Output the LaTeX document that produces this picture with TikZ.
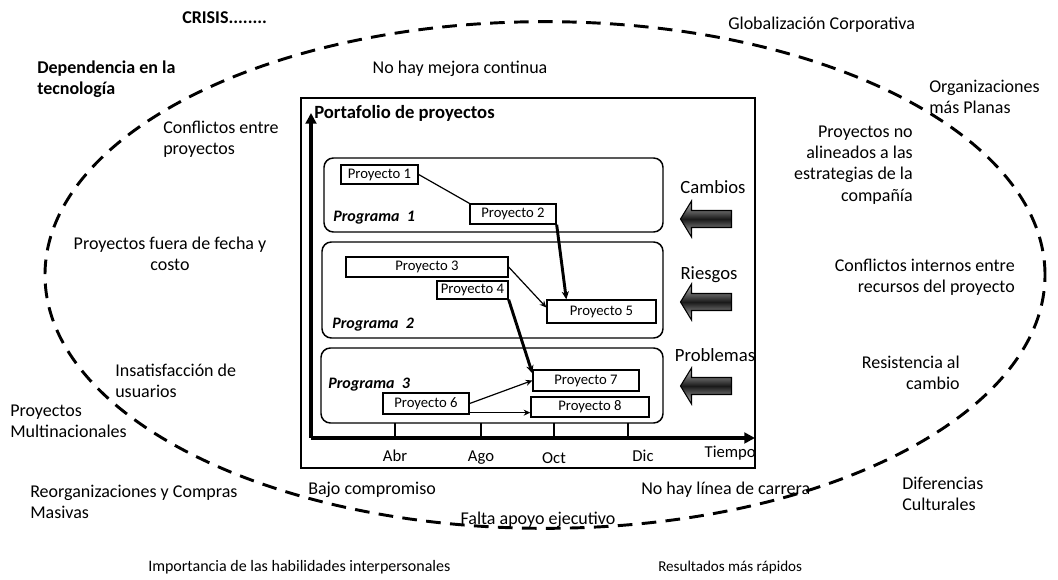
\documentclass[tikz,border=0pt]{standalone}
\usepackage{fontspec}
\setmainfont{Carlito}
\usetikzlibrary{arrows.meta,fit}

\begin{document}
\begin{tikzpicture}[
  x=0.75pt, y=-0.75pt,
  lbl/.style={font=\fontsize{13.5}{16}\selectfont, inner sep=0pt},
  lblb/.style={lbl, font=\fontsize{13.5}{16}\selectfont\bfseries},
  lbls/.style={font=\fontsize{12}{14}\selectfont, inner sep=0pt},
  side/.style={font=\fontsize{14}{16}\selectfont, inner sep=0pt},
  tick/.style={font=\fontsize{12.5}{14}\selectfont, inner sep=0pt, anchor=base},
  progbox/.style={draw, line width=1.1pt, rounded corners=7pt, inner sep=0pt},
  proglbl/.style={font=\fontsize{12}{14}\selectfont\bfseries\itshape, inner sep=0pt, anchor=west},
  pbox/.style={draw, line width=1pt, inner sep=0pt, fill=white},
  pname/.style={font=\fontsize{11}{13}\selectfont, inner sep=0pt},
  thinarr/.style={line width=0.9pt, -{Stealth[length=5pt,width=4.5pt]}},
  thickarr/.style={line width=2.2pt, -{Stealth[length=6pt,width=5.5pt]}},
  link/.style={line width=0.9pt},
  axis/.style={line width=2.4pt, -{Triangle[length=8pt,width=8pt]}},
  blockarrow/.pic={
    \shade[draw=black, line width=0.8pt, top color=gray!55, bottom color=gray!55, middle color=black!90]
      (-25.5,0) -- (-14.5,-18) -- (-14.5,-8.5) -- (25.5,-8.5) -- (25.5,8.5)
      -- (-14.5,8.5) -- (-14.5,18) -- cycle;
  }
]
\useasboundingbox (0,0) rectangle (1058,580);
\fill[white] (0,0) rectangle (1058,580);

% dashed outer boundary
\draw[line width=2.2pt, dash pattern=on 11pt off 7pt] (545,275) ellipse [x radius=375pt, y radius=190pt];

% surrounding factors
\node[lblb, anchor=west] (crisis) at (182,18) {CRISIS........};
\node[lblb, anchor=west, align=left] (dep) at (37,79) {Dependencia en la\\tecnología};
\node[lbl] (mejora) at (460,69) {No hay mejora continua};
\node[lbl, anchor=west] (glob) at (728,25) {Globalización Corporativa};
\node[lbl, anchor=west, align=left] (planas) at (929,97) {Organizaciones\\más Planas};
\node[lbl, anchor=east, align=right] (alin) at (913,165) {Proyectos no\\alineados a las\\estrategias de la\\compañía};
\node[lbl, anchor=west, align=left] (confl) at (163,139) {Conflictos entre\\proyectos};
\node[lbl, align=center] (fecha) at (170,254) {Proyectos fuera de fecha y\\costo};
\node[lbl, anchor=east, align=right] (recursos) at (1015,277) {Conflictos internos entre\\recursos del proyecto};
\node[lbl, anchor=east, align=right] (resist) at (960,373) {Resistencia al\\cambio};
\node[lbl, anchor=west, align=left] (insat) at (115,381) {Insatisfacción de\\usuarios};
\node[lbl, anchor=west, align=left] (multi) at (10,421) {Proyectos\\Multinacionales};
\node[lbl, anchor=west, align=left] (reorg) at (30,502) {Reorganizaciones y Compras\\Masivas};
\node[lbl, anchor=west] (bajo) at (308,490) {Bajo compromiso};
\node[lbl, anchor=west] (carrera) at (641,490) {No hay línea de carrera};
\node[lbl, anchor=west, align=left] (dif) at (902,494) {Diferencias\\Culturales};
\node[lbl] (falta) at (538,520) {Falta apoyo ejecutivo};
\node[lbls, anchor=west] (habil) at (148,567) {Importancia de las habilidades interpersonales};
\node[lbls, anchor=west, font=\fontsize{11.3}{14}\selectfont] (rapidos) at (658,567) {Resultados más rápidos};

% portfolio frame
\node[draw, line width=1.2pt, inner sep=0pt, fit={(301,98)(755,468)}] (frame) {};
\node[font=\fontsize{14}{16}\selectfont\bfseries, inner sep=0pt, anchor=west] (title) at (314,113) {Portafolio de proyectos};

% programme boxes
\node[progbox, fit={(324,158)(663,232)}] (prog1) {};
\node[progbox, fit={(322,242)(663,338)}] (prog2) {};
\node[progbox, fit={(321,348)(663,423)}] (prog3) {};
\node[proglbl] (pl1) at (333,218) {Programa\ \ 1};
\node[proglbl] (pl2) at (332,325) {Programa\ \ 2};
\node[proglbl] (pl3) at (328,385) {Programa\ \ 3};

% axes and time ticks
\coordinate (orig) at (311,438);
\coordinate (ytip) at (311,113);
\coordinate (xtip) at (755,438);
\foreach \x in {395,481,554,628} \draw[line width=0.8pt] (\x,423) -- (\x,438);
\draw[axis] (orig) -- (ytip);
\draw[axis] (orig) -- (xtip);
\node[tick] (abr) at (395,462) {Abr};
\node[tick] (ago) at (481,462) {Ago};
\node[tick] (oct) at (554,464) {Oct};
\node[tick] (dic) at (643,462) {Dic};
\node[tick, anchor=base east] (tiempo) at (756,458) {Tiempo};

% projects
\node[pbox, fit={(341,165)(418,184)}, label={[pname]center:Proyecto 1}] (p1) {};
\node[pbox, fit={(470,204)(556,224)}, label={[pname]center:Proyecto 2}] (p2) {};
\node[pbox, fit={(346,257)(508,277)}, label={[pname]center:Proyecto 3}] (p3) {};
\node[pbox, fit={(437,281)(508,299)}, label={[pname]center:Proyecto 4}] (p4) {};
\node[pbox, fit={(547,300)(656,323)}, label={[pname]center:Proyecto 5}] (p5) {};
\node[pbox, fit={(383,393)(469,414)}, label={[pname]center:Proyecto 6}] (p6) {};
\node[pbox, fit={(533,370)(639,391)}, label={[pname]center:Proyecto 7}] (p7) {};
\node[pbox, fit={(531,397)(649,417)}, label={[pname]center:Proyecto 8}] (p8) {};

% dependencies
\draw[link] (p1.east) -- (p2.north west);
\draw[thickarr] (p2.south east) -- ([xshift=15pt]p5.north west);
\draw[thinarr] (p3.east) -- ([yshift=3pt]p5.west);
\draw[thickarr] (p4.south east) -- ([yshift=-3pt]p7.north west);
\draw[thinarr] (p6.east) -- (p7.west);
\draw[thinarr] ([yshift=1.5pt]p6.south east) -- ([yshift=1.5pt]p6.south east -| p8.west);

% external pressures
\node[side] (cambios) at (713,187) {Cambios};
\node[side] (riesgos) at (709,275) {Riesgos};
\node[side] (problemas) at (715,355) {Problemas};
\pic at (706,219) {blockarrow};
\pic at (706,302) {blockarrow};
\pic at (706,386) {blockarrow};
\end{tikzpicture}
\end{document}
